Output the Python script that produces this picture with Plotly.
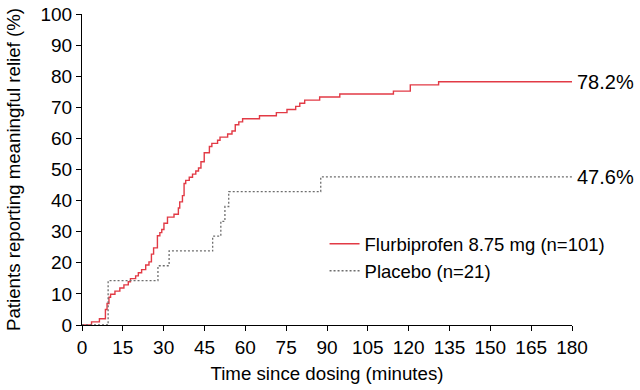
import plotly.graph_objects as go

# Flurbiprofen 8.75 mg (n=101): step times (min) and cumulative % reporting meaningful relief
flurbi_time = [0, 3.5, 6.4, 8.6, 9.2, 9.9, 10.5, 12.1, 13.9, 15.4, 17.0, 17.8, 19.7, 20.7,
               21.9, 23.4, 24.6, 25.5, 26.3, 27.7, 28.6, 29.3, 30.1, 31.4, 33.8, 35.4,
               35.9, 36.9, 37.5, 38.1, 39.4, 40.6, 41.8, 42.8, 43.7, 44.9, 46.8, 47.7,
               49.8, 50.7, 53.5, 55.1, 56.3, 57.6, 59.0, 65.2, 71.4, 75.3, 78.5, 80.0,
               81.8, 87.3, 94.7, 114.4, 120.6, 131.0, 180]
flurbi_pct = [0, 1.0, 2.0, 5.0, 6.9, 8.9, 9.9, 10.9, 11.9, 12.9, 13.9, 14.9, 15.8, 16.8,
              17.8, 19.3, 20.3, 22.8, 24.8, 28.7, 29.7, 30.7, 32.7, 34.7, 35.6, 37.6,
              39.6, 41.6, 45.5, 46.5, 47.5, 48.5, 49.5, 50.5, 52.5, 55.4, 57.4, 58.4,
              59.4, 60.4, 61.4, 62.4, 64.4, 65.3, 66.3, 67.3, 68.3, 69.3, 70.3, 71.3,
              72.3, 73.3, 74.3, 75.2, 77.2, 78.2, 78.2]

# Placebo (n=21)
placebo_time = [0, 9.6, 27.9, 32.0, 48.0, 51.0, 52.5, 53.9, 87.7, 180]
placebo_pct = [0, 14.29, 19.05, 23.81, 28.57, 33.33, 38.10, 42.86, 47.62, 47.62]

series_names = ["Flurbiprofen 8.75 mg (n=101)", "Placebo (n=21)"]
end_labels = ["78.2%", "47.6%"]

x_ticks = list(range(0, 181, 15))
y_ticks = list(range(0, 101, 10))

FONT = "Liberation Sans, Arial, Helvetica, sans-serif"
TICK_FS = 19
TITLE_FS = 18.7
LEG_FS = 18.5
END_FS = 20

fig = go.Figure()
fig.add_trace(go.Scatter(x=flurbi_time, y=flurbi_pct, mode="lines", line_shape="hv",
                         name=series_names[0],
                         line=dict(color="#e23a45", width=1.4)))
fig.add_trace(go.Scatter(x=placebo_time, y=placebo_pct, mode="lines", line_shape="hv",
                         name=series_names[1],
                         line=dict(color="#6e6e6e", width=1.3, dash="2px,2px")))

fig.add_annotation(x=flurbi_time[-1], y=flurbi_pct[-1], text=end_labels[0], showarrow=False,
                   xanchor="left", yanchor="middle", xshift=3, font=dict(size=END_FS, color="black"))
fig.add_annotation(x=placebo_time[-1], y=placebo_pct[-1], text=end_labels[1], showarrow=False,
                   xanchor="left", yanchor="middle", xshift=3, font=dict(size=END_FS, color="black"))

fig.update_layout(
    width=640, height=390,
    margin=dict(l=82, r=68, t=14, b=65, autoexpand=False),
    paper_bgcolor="white", plot_bgcolor="white",
    font=dict(family=FONT, size=TICK_FS, color="black"),
    showlegend=True,
    legend=dict(x=0.495, y=0.321, xanchor="left", yanchor="top",
                bgcolor="rgba(0,0,0,0)", font=dict(size=LEG_FS), tracegroupgap=0),
    xaxis=dict(range=[0, 180], tickvals=x_ticks, ticks="outside", ticklen=5, tickwidth=1,
               tickcolor="black", showline=True, linecolor="black", linewidth=1,
               showgrid=False, zeroline=False, automargin=False,
               tickfont=dict(size=TICK_FS),
               title=dict(text="Time since dosing (minutes)", standoff=10,
                          font=dict(size=TITLE_FS))),
    yaxis=dict(range=[0, 100], tickvals=y_ticks, ticks="outside", ticklen=5, tickwidth=1,
               tickcolor="black", showline=True, linecolor="black", linewidth=1,
               showgrid=False, zeroline=False, automargin=False,
               tickfont=dict(size=TICK_FS),
               title=dict(text="Patients reporting meaningful relief (%)", standoff=14,
                          font=dict(size=TITLE_FS))),
)

fig.write_html("out.html", config={"displayModeBar": False},
               post_script="document.body.style.margin='0';")
